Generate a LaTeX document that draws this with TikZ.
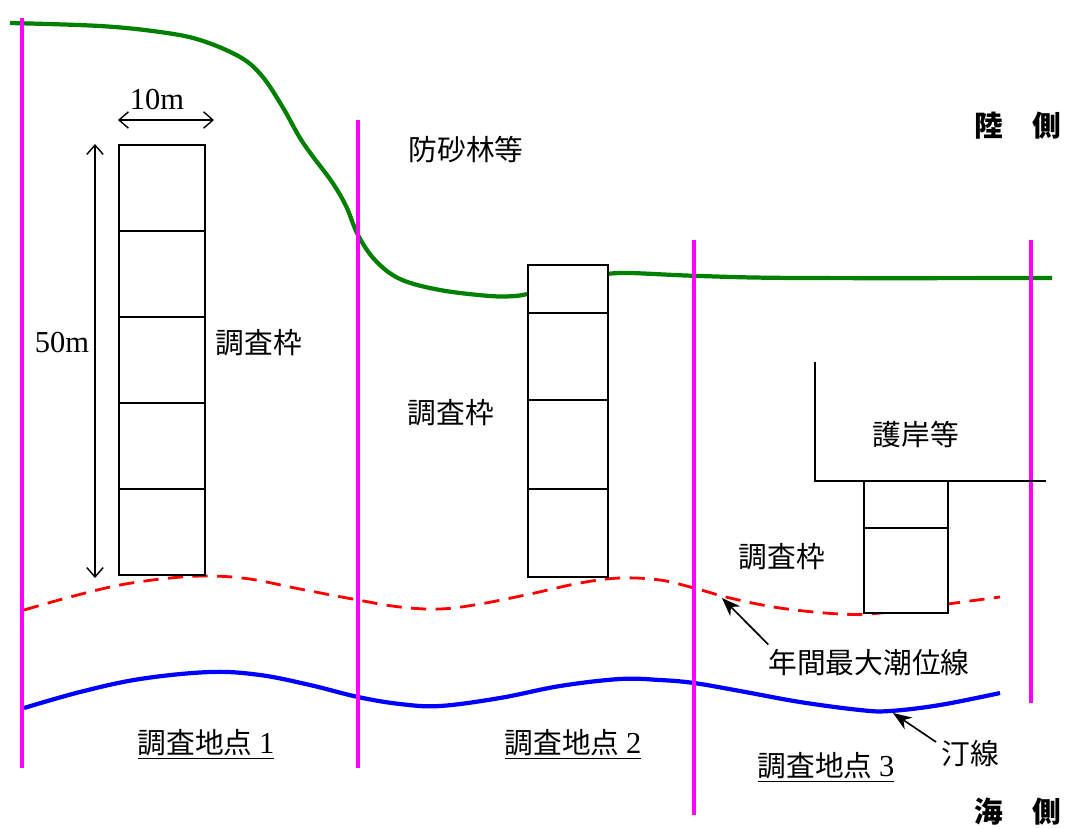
\documentclass[tikz,border=0pt]{standalone}
\usepackage{fontspec}
\setmainfont{Liberation Serif}
\newfontfamily\jp{Noto Sans CJK JP}
\usetikzlibrary{arrows.meta}
\definecolor{mag}{RGB}{255,0,255}
\definecolor{grn}{RGB}{0,128,0}
\definecolor{blu}{RGB}{0,0,255}
\definecolor{rd}{RGB}{255,0,0}
\tikzset{
  cell/.style={draw, line width=1.6pt, inner sep=0pt, anchor=north west, minimum width=#1},
  jtext/.style={font=\jp\fontsize{24.5}{29}\selectfont, inner sep=0pt},
  ntext/.style={font=\fontsize{26}{30}\selectfont, inner sep=0pt},
  ulabel/.style={font=\jp\fontsize{24.5}{29}\selectfont, inner sep=0pt},
  sideline/.style={mag, line width=3.6pt},
  dimarrow/.style={line width=1.2pt, {Straight Barb[length=8pt,width=14pt]}-{Straight Barb[length=8pt,width=14pt]}},
  ptr/.style={line width=1.4pt, -{Stealth[length=16pt,width=12pt]}},
}
\newcommand{\ul}[1]{\underline{#1}}
\begin{document}
\begin{tikzpicture}[x=0.03cm,y=-0.03cm]
\useasboundingbox (0,0) rectangle (1066,828);
% magenta section lines
\coordinate (m1t) at (22,18); \coordinate (m1b) at (22,768);
\coordinate (m2t) at (358,120); \coordinate (m2b) at (358,768);
\coordinate (m3t) at (694,240); \coordinate (m3b) at (694,815);
\coordinate (m4t) at (1031,240); \coordinate (m4b) at (1031,703);
% green land line
\draw[grn, line width=3.6pt] plot[smooth, tension=0.6] coordinates {(10,23) (100,26) (160,32) (200,40) (240,57) (262,76) (282,106) (300,138) (314,158) (332,182) (346,206) (358,235) (375,260) (400,279) (440,290) (490,296) (515,296) (527,294)};
\draw[grn, line width=3.6pt] plot[smooth, tension=0.6] coordinates {(607,274) (630,273) (700,276) (800,278) (1052,278)};
% red dashed annual max tide line
\draw[rd, line width=2.4pt, dash pattern=on 13pt off 8pt] plot[smooth, tension=0.6] coordinates {(24,610) (70,597) (120,585) (170,578) (210,576) (250,579) (300,589) (358,600) (400,607) (440,609) (480,604) (530,594) (580,583) (620,578) (660,580) (694,588) (730,598) (780,608) (840,614) (880,613) (940,605) (1000,597)};
% blue shoreline
\draw[blu, line width=3.6pt] plot[smooth, tension=0.6] coordinates {(24,708) (80,692) (140,679) (210,672) (260,675) (310,685) (358,697) (400,704) (440,706) (500,698) (560,686) (620,679) (660,680) (694,683) (740,691) (800,702) (860,710) (890,711) (940,705) (1000,693)};
% magenta lines drawn on top
\draw[sideline] (m1t) -- (m1b);
\draw[sideline] (m2t) -- (m2b);
\draw[sideline] (m3t) -- (m3b);
\draw[sideline] (m4t) -- (m4b);
% survey box 1
\node[cell=2.58cm, minimum height=2.58cm, fill=white] (b1a) at (118,144) {};
\node[cell=2.58cm, minimum height=2.58cm] (b1b) at (118,230) {};
\node[cell=2.58cm, minimum height=2.58cm] (b1c) at (118,316) {};
\node[cell=2.58cm, minimum height=2.58cm] (b1d) at (118,402) {};
\node[cell=2.58cm, minimum height=2.58cm] (b1e) at (118,488) {};
% survey box 2
\node[cell=2.4cm, minimum height=1.44cm, fill=white] (b2a) at (527,264) {};
\node[cell=2.4cm, minimum height=2.61cm] (b2b) at (527,312) {};
\node[cell=2.4cm, minimum height=2.67cm] (b2c) at (527,399) {};
\node[cell=2.4cm, minimum height=2.64cm] (b2d) at (527,488) {};
% seawall
\coordinate (w1) at (815,362); \coordinate (w2) at (815,481); \coordinate (w3) at (1046,481);
\draw[line width=1.6pt] (w1) -- (w2) -- (w3);
% survey box 3
\node[cell=2.52cm, minimum height=1.41cm, fill=white] (b3a) at (863,480) {};
\node[cell=2.52cm, minimum height=2.55cm, fill=white] (b3b) at (863,527) {};
% dimensions
\coordinate (h1) at (118,120); \coordinate (h2) at (214,120);
\draw[dimarrow] (h1) -- (h2);
\node[ntext] (l10) at (157,100) {10m};
\coordinate (v1) at (95,144); \coordinate (v2) at (95,578);
\draw[dimarrow] (v1) -- (v2);
\node[ntext] (l50) at (62,343) {50m};
% labels
\node[jtext] (fs) at (466,150) {防砂林等};
\node[jtext] (k1) at (259,343) {調査枠};
\node[jtext] (k2) at (451,413) {調査枠};
\node[jtext] (k3) at (782,557) {調査枠};
\node[jtext] (gg) at (916,435) {護岸等};
\node[jtext, font=\jp\bfseries\fontsize{24.5}{29}\selectfont] (riku) at (1018,126) {陸　側};
\node[jtext, font=\jp\bfseries\fontsize{24.5}{29}\selectfont] (umi) at (1018,812) {海　側};
\node[jtext] (tide) at (869,663) {年間最大潮位線};
\node[jtext] (tei) at (970,754) {汀線};
\node[ulabel] (p1) at (206,744) {\ul{調査地点\ {\rmfamily\fontsize{26}{30}\selectfont 1}}};
\node[ulabel] (p2) at (573,744) {\ul{調査地点\ {\rmfamily\fontsize{26}{30}\selectfont 2}}};
\node[ulabel] (p3) at (826,767) {\ul{調査地点\ {\rmfamily\fontsize{26}{30}\selectfont 3}}};
% pointers
\coordinate (tp) at (722,598);
\coordinate (sp) at (893,713);
\draw[ptr] (tide.north west) ++(0,-5) -- (tp);
\draw[ptr] (tei.west) ++(-5,-12) -- (sp);
\end{tikzpicture}
\end{document}
